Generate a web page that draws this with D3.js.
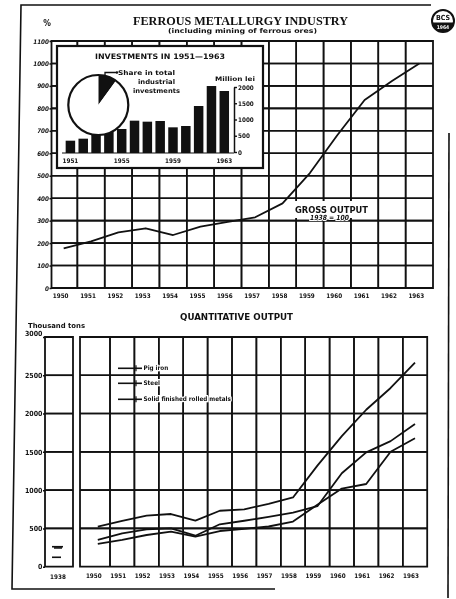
<!DOCTYPE html>
<html><head><meta charset="utf-8">
<script src="https://cdn.jsdelivr.net/npm/d3@7"></script>
<style>
body{margin:0;background:#fff}
#wrap{position:relative;width:456px;height:599px}
#grid{position:absolute;left:0;top:0}
svg{position:absolute;left:0;top:0;display:block}
text{font-family:"DejaVu Sans Condensed","DejaVu Sans",sans-serif;font-weight:bold;fill:#111}
</style>
</head><body>
<div id="wrap">
<canvas id="grid" width="456" height="599"></canvas>
<svg id="c" width="456" height="599"></svg>
</div>
<script>
// ---------- DATA ----------
const grossYears = ["1950","1951","1952","1953","1954","1955","1956","1957","1958","1959","1960","1961","1962","1963"];
const grossOutput = [177,208,248,266,236,273,294,315,377,512,680,837,922,1000];
const grossTicks = [0,100,200,300,400,500,600,700,800,900,1000,1100];

const invYears = ["1951","1952","1953","1954","1955","1956","1957","1958","1959","1960","1961","1962","1963"];
const investments = [348,410,600,680,708,964,933,954,759,800,1415,2030,1877];
const invTicks = [0,500,1000,1500,2000];
const invLabels = ["1951","1955","1959","1963"];
const shareInTotal = [0.10, 0.90];

const qtyYears = ["1950","1951","1952","1953","1954","1955","1956","1957","1958","1959","1960","1961","1962","1963"];
const pigIron = [297,349,414,457,392,466,495,525,590,810,1020,1080,1502,1678];
const steel   = [522,597,666,688,601,731,749,821,904,1320,1706,2050,2334,2665];
const rolled  = [349,436,488,501,405,554,600,650,707,790,1220,1494,1640,1864];
const qty1938 = [123,261,245]; // pig iron, steel, rolled
const seriesNames = ["Pig iron","Steel","Solid finished rolled metals"];
const qtyTicks = [0,500,1000,1500,2000,2500,3000];

// ---------- SETUP ----------
const ink = "#111";
const GW = 1.6;
const svg = d3.select("#c");
const ctx = document.getElementById("grid").getContext("2d");
ctx.fillStyle = "#fff"; ctx.fillRect(0,0,456,599);
ctx.strokeStyle = ink; ctx.lineWidth = GW;

function hRules(parent, ticks, scale, x1, x2){
  parent.append("g").selectAll("line").data(ticks).enter().append("line")
    .attr("x1",x1).attr("x2",x2).attr("y1",d=>scale(d)).attr("y2",d=>scale(d))
    .attr("stroke",ink).attr("stroke-width",GW);
  ctx.beginPath();
  ticks.forEach(t=>{ ctx.moveTo(x1,scale(t)); ctx.lineTo(x2,scale(t)); });
  ctx.stroke();
}
function vRules(parent, cats, scale, y1, y2){
  parent.append("g").selectAll("line").data(cats).enter().append("line")
    .attr("x1",d=>scale(d)).attr("x2",d=>scale(d)).attr("y1",y1).attr("y2",y2)
    .attr("stroke",ink).attr("stroke-width",GW);
  ctx.beginPath();
  cats.forEach(c=>{ ctx.moveTo(scale(c),y1); ctx.lineTo(scale(c),y2); });
  ctx.stroke();
}
function frame(parent, x1, x2, y1, y2){
  parent.append("path").attr("d","M"+x1+","+y1+"H"+x2+"V"+y2+"H"+x1+"Z")
    .attr("fill","none").attr("stroke",ink).attr("stroke-width",1.8);
}

// page frame
svg.append("path").attr("d","M431,5 L21,5 L12,589 L275,589")
  .attr("fill","none").attr("stroke",ink).attr("stroke-width",1.6);
svg.append("path").attr("d","M449,133 L448,598")
  .attr("fill","none").attr("stroke",ink).attr("stroke-width",1.6);

// badge
const badge = svg.append("g").attr("transform","translate(443,21)");
badge.append("clipPath").attr("id","bc").append("circle").attr("r",11);
badge.append("rect").attr("x",-12).attr("y",1.5).attr("width",24).attr("height",12).attr("fill",ink).attr("clip-path","url(#bc)");
badge.append("circle").attr("r",11).attr("fill","none").attr("stroke",ink).attr("stroke-width",2);
badge.append("text").attr("y",-1.5).attr("text-anchor","middle").attr("font-size",7).text("BCS");
badge.append("text").attr("y",7.5).attr("text-anchor","middle").attr("font-size",5).style("fill","#fff").text("1964");

// titles
svg.append("text").attr("x",133).attr("y",25).attr("textLength",215).attr("lengthAdjust","spacingAndGlyphs")
  .style("font-family","'Liberation Serif',serif").attr("font-size",13.5).text("FERROUS METALLURGY INDUSTRY");
svg.append("text").attr("x",168).attr("y",32.5).attr("textLength",149).attr("lengthAdjust","spacingAndGlyphs")
  .attr("font-size",6.5).text("(including mining of ferrous ores)");

// ---------- TOP CHART ----------
const xT = d3.scaleBand().domain(grossYears).range([50,433]);
const yT = d3.scaleLinear().domain([0,1100]).range([288,41]);
const gT = svg.append("g");
hRules(gT, grossTicks.slice(1,-1), yT, 51.5, 433);
vRules(gT, grossYears.slice(1), xT, yT(1100), yT(0));
frame(gT, 51.5, 433, yT(1100), yT(0));

const axT = gT.append("g").attr("transform","translate(51.5,0)")
  .call(d3.axisLeft(yT).tickValues(grossTicks).tickFormat(d3.format("d")).tickSize(2).tickPadding(0.5));
axT.select(".domain").remove();
axT.selectAll("line").attr("stroke",ink).attr("stroke-width",1.5);
axT.selectAll("text").attr("font-size",6.3).style("font-style","italic").style("font-family","'DejaVu Sans Condensed',sans-serif").style("font-weight","bold").attr("fill",ink);
svg.append("text").attr("x",47).attr("y",26).attr("text-anchor","middle").attr("font-size",8.5).text("%");

const axTx = gT.append("g").attr("transform","translate(-3,288)")
  .call(d3.axisBottom(xT).tickSize(0).tickPadding(6));
axTx.select(".domain").remove();
axTx.selectAll("text").attr("font-size",6.3).style("font-family","'DejaVu Sans Condensed',sans-serif").style("font-weight","bold").attr("fill",ink);

// gross output label (white patch over grid)
gT.append("rect").attr("x",293).attr("y",201).attr("width",80).attr("height",17).attr("fill","#fff");
gT.append("text").attr("x",295).attr("y",212.5).attr("textLength",73).attr("lengthAdjust","spacingAndGlyphs")
  .attr("font-size",8).text("GROSS OUTPUT");
gT.append("text").attr("x",310).attr("y",219.5).attr("textLength",39).attr("lengthAdjust","spacingAndGlyphs")
  .attr("font-size",7).style("font-style","italic")
  .attr("stroke","#fff").attr("stroke-width",2).attr("paint-order","stroke").text("1938 = 100");

// gross output line
gT.append("path").datum(grossOutput)
  .attr("d",d3.line().x((d,i)=>xT(grossYears[i])+xT.bandwidth()/2).y(d=>yT(d)))
  .attr("fill","none").attr("stroke",ink).attr("stroke-width",1.8).attr("stroke-linejoin","round");

// ---------- INSET ----------
const gI = svg.append("g");
gI.append("rect").attr("x",57).attr("y",46).attr("width",206).attr("height",122)
  .attr("fill","#fff").attr("stroke",ink).attr("stroke-width",2.2);
gI.append("text").attr("x",95).attr("y",59).attr("textLength",130).attr("lengthAdjust","spacingAndGlyphs")
  .attr("font-size",7.5).text("INVESTMENTS IN 1951—1963");

const xI = d3.scaleBand().domain(invYears).range([64,230.7]).paddingInner(0.26).paddingOuter(0.13);
const yI = d3.scaleLinear().domain([0,2000]).range([152,87]);
gI.append("g").selectAll("rect").data(investments).enter().append("rect")
  .attr("x",(d,i)=>xI(invYears[i])).attr("y",d=>yI(d))
  .attr("width",xI.bandwidth()).attr("height",d=>yI(0)-yI(d)+1)
  .attr("fill",ink);
gI.append("line").attr("x1",62).attr("x2",234).attr("y1",yI(0)+1).attr("y2",yI(0)+1).attr("stroke",ink).attr("stroke-width",1.2);

const axI = gI.append("g").attr("transform","translate(234,0)")
  .call(d3.axisRight(yI).tickValues(invTicks).tickFormat(d3.format("d")).tickSize(3).tickSizeOuter(0).tickPadding(1));
axI.select(".domain").attr("stroke",ink).attr("stroke-width",1.5);
axI.selectAll("line").attr("stroke",ink).attr("stroke-width",1.4);
axI.selectAll("text").attr("font-size",6.3).style("font-family","'DejaVu Sans Condensed',sans-serif").style("font-weight","bold").attr("fill",ink);
gI.append("text").attr("x",215).attr("y",81).attr("textLength",40).attr("lengthAdjust","spacingAndGlyphs")
  .attr("font-size",6.3).text("Million lei");

gI.append("g").selectAll("text").data(invLabels).enter().append("text")
  .attr("x",d=>xI(d)+xI.bandwidth()/2).attr("y",163).attr("text-anchor","middle")
  .attr("font-size",6.3).text(d=>d);

// pie
const pieG = gI.append("g").attr("transform","translate(98.3,105)");
const arcs = d3.pie().sort(null)(shareInTotal);
const arc = d3.arc().innerRadius(0).outerRadius(30);
pieG.selectAll("path").data(arcs).enter().append("path")
  .attr("d",arc).attr("fill",(d,i)=>i===0?ink:"#fff");
pieG.append("circle").attr("r",30).attr("fill","none").attr("stroke",ink).attr("stroke-width",2.2);
gI.append("path").attr("d","M105,76.5 V72.5 H117").attr("fill","none").attr("stroke",ink).attr("stroke-width",1.3);
gI.append("circle").attr("cx",117).attr("cy",72.5).attr("r",1.2).attr("fill",ink);
gI.append("text").attr("x",118).attr("y",75).attr("textLength",57).attr("lengthAdjust","spacingAndGlyphs").attr("font-size",6.5).text("Share in total");
gI.append("text").attr("x",138).attr("y",84).attr("textLength",37).attr("lengthAdjust","spacingAndGlyphs").attr("font-size",6.5).text("industrial");
gI.append("text").attr("x",133).attr("y",93).attr("textLength",47).attr("lengthAdjust","spacingAndGlyphs").attr("font-size",6.5).text("investments");

// ---------- BOTTOM CHART ----------
svg.append("text").attr("x",180).attr("y",320).attr("textLength",113).attr("lengthAdjust","spacingAndGlyphs")
  .attr("font-size",8).text("QUANTITATIVE OUTPUT");
svg.append("text").attr("x",28).attr("y",328).attr("textLength",57).attr("lengthAdjust","spacingAndGlyphs")
  .attr("font-size",7).text("Thousand tons");

const xB = d3.scaleBand().domain(qtyYears).range([85.6,427.2]);
const yB = d3.scaleLinear().domain([0,3000]).range([566.7,337]);
const gB = svg.append("g");
const p38 = [45,73], pMain = [80,427.2];
hRules(gB, qtyTicks.slice(1,-1), yB, p38[0], p38[1]);
hRules(gB, qtyTicks.slice(1,-1), yB, pMain[0], pMain[1]);
vRules(gB, qtyYears.slice(1), xB, yB(3000), yB(0));
frame(gB, p38[0], p38[1], yB(3000), yB(0));
frame(gB, pMain[0], pMain[1], yB(3000), yB(0));

const axB = gB.append("g").attr("transform","translate(45,0)")
  .call(d3.axisLeft(yB).tickValues(qtyTicks).tickFormat(d3.format("d")).tickSize(2).tickPadding(0.5));
axB.select(".domain").remove();
axB.selectAll("line").attr("stroke",ink).attr("stroke-width",1.5);
axB.selectAll("text").attr("font-size",7).style("font-family","'DejaVu Sans Condensed',sans-serif").style("font-weight","bold").attr("fill",ink);
axB.selectAll(".tick").filter(d=>d===3000).select("text").attr("dy","-0.25em");

const axBx = gB.append("g").attr("transform","translate(-4,566.7)")
  .call(d3.axisBottom(xB).tickSize(0).tickPadding(6.5));
axBx.select(".domain").remove();
axBx.selectAll("text").attr("font-size",6.3).style("font-family","'DejaVu Sans Condensed',sans-serif").style("font-weight","bold").attr("fill",ink);
gB.append("text").attr("x",58).attr("y",578.5).attr("text-anchor","middle").attr("font-size",6.3).text("1938");

// 1938 marks
const mark38 = [[52,61],[52,63],[54,62]];
gB.append("g").selectAll("line").data(qty1938).enter().append("line")
  .attr("x1",(d,i)=>mark38[i][0]).attr("x2",(d,i)=>mark38[i][1])
  .attr("y1",d=>yB(d)).attr("y2",d=>yB(d)).attr("stroke",ink).attr("stroke-width",1.6);

// legend
const legY = [368.3,383.3,399.3];
seriesNames.forEach((n,i)=>{
  gB.append("line").attr("x1",118).attr("x2",142).attr("y1",legY[i]).attr("y2",legY[i]).attr("stroke",ink).attr("stroke-width",1.6);
  gB.append("line").attr("x1",136).attr("x2",136).attr("y1",legY[i]-3).attr("y2",legY[i]+3).attr("stroke",ink).attr("stroke-width",1.2);
  gB.append("text").attr("x",143.5).attr("y",legY[i]+2).attr("font-size",6.3)
    .attr("stroke","#fff").attr("stroke-width",2.5).attr("paint-order","stroke").text(n);
});

// series lines
const lineB = d3.line().x((d,i)=>xB(qtyYears[i])+xB.bandwidth()/2).y(d=>yB(d));
[pigIron,steel,rolled].forEach(s=>{
  gB.append("path").datum(s).attr("d",lineB)
    .attr("fill","none").attr("stroke",ink).attr("stroke-width",1.8).attr("stroke-linejoin","round");
});
</script>
</body></html>
